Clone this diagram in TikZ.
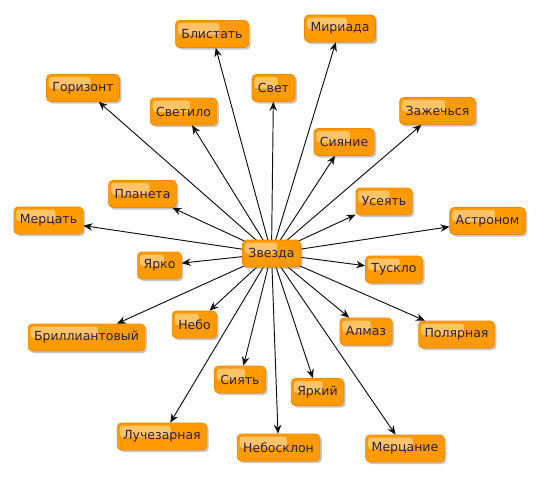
\documentclass[tikz,border=0pt]{standalone}
\usepackage{fontspec}
\setmainfont{DejaVu Sans}
\usetikzlibrary{shadows,arrows.meta,calc}
\definecolor{boxfill}{HTML}{FF9A00}
\definecolor{boxedge}{HTML}{EE8800}
\definecolor{boxhl}{HTML}{FFC468}
\definecolor{boxtext}{HTML}{2E1E3E}
\definecolor{linkcol}{HTML}{111111}
\tikzset{
  word/.style={draw=boxedge, line width=0.6pt, fill=boxfill, rounded corners=4pt,
    text=boxtext, font=\fontsize{12.5}{14}\selectfont, inner xsep=6pt, inner ysep=0pt,
    minimum height=27pt,
    drop shadow={shadow xshift=2pt, shadow yshift=-2pt, opacity=0.4, fill=black!55},
    path picture={\fill[boxhl, rounded corners=3pt]
      ([shift={(2.5pt,-2.5pt)}]path picture bounding box.north west) rectangle
      ($(path picture bounding box.west)!0.6!(path picture bounding box.east)+(0,-0.5pt)$);}},
  link/.style={draw=linkcol, line width=0.95pt, -{Stealth[length=9pt,width=7.5pt]}}
}
\begin{document}
\begin{tikzpicture}[x=1pt,y=-1pt]
\useasboundingbox[fill=white] (0,0) rectangle (543,480);
% outer nodes
\node[word] (blistat)  at (212,34)    {Блистать};
\node[word] (gorizont) at (83,88)     {Горизонт};
\node[word] (svetilo)  at (183.5,111.5) {Светило};
\node[word] (planeta)  at (142.5,194) {Планета};
\node[word] (mercat)   at (48.5,220.5) {Мерцать};
\node[word] (miriada)  at (340,28.5)  {Мириада};
\node[word] (svet)     at (273.5,88)  {Свет};
\node[word] (zazhech)  at (437.5,111) {Зажечься};
\node[word] (siyanie)  at (344,142)   {Сияние};
\node[word] (useyat)   at (384,201.5) {Усеять};
\node[word] (astronom) at (487.5,221) {Астроном};
\node[word] (yarko)    at (159.5,265.5) {Ярко};
\node[word] (brill)    at (86.5,337.5) {Бриллиантовый};
\node[word] (nebo)     at (194.5,324.5) {Небо};
\node[word] (siyat)    at (240,379.5) {Сиять};
\node[word] (luchez)   at (162,436.5) {Лучезарная};
\node[word] (nebosk)   at (278.5,447.5) {Небосклон};
\node[word] (tusklo)   at (394,269.5) {Тускло};
\node[word] (almaz)    at (366,331.5) {Алмаз};
\node[word] (polyar)   at (456.5,334.5) {Полярная};
\node[word] (yarkiy)   at (317.5,392) {Яркий};
\node[word] (mercanie) at (405,448.5) {Мерцание};
% links from the centre of the hub
\coordinate (zc) at (271.5,253.5);
\foreach \t in {blistat,gorizont,svetilo,planeta,mercat,miriada,svet,zazhech,siyanie,useyat,astronom,yarko,brill,nebo,siyat,luchez,nebosk,tusklo,almaz,polyar,yarkiy,mercanie}
  \draw[link] (zc) -- (\t);
% centre node on top
\node[word] (zvezda) at (zc) {Звезда};
\end{tikzpicture}
\end{document}
